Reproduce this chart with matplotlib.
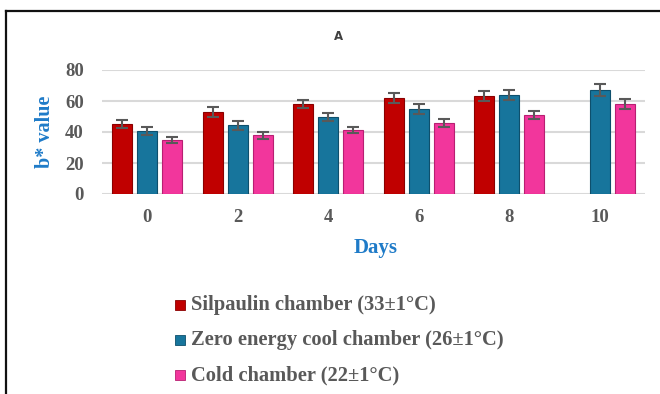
import numpy as np
import matplotlib
matplotlib.use("Agg")
import matplotlib.pyplot as plt
from matplotlib.lines import Line2D
from matplotlib.patches import Rectangle

days = ["0", "2", "4", "6", "8", "10"]
series_names = ["Silpaulin chamber (33±1°C)",
                "Zero energy cool chamber (26±1°C)",
                "Cold chamber (22±1°C)"]
silpaulin = [45.2, 53.1, 58.0, 61.9, 63.2, np.nan]
zero_energy = [40.6, 44.3, 49.7, 54.8, 63.9, 67.1]
cold = [34.8, 37.8, 41.3, 45.8, 50.8, 58.0]
silpaulin_err = [2.8, 3.2, 2.8, 3.0, 3.0, np.nan]
zero_energy_err = [2.8, 2.8, 2.8, 3.2, 3.2, 3.6]
cold_err = [2.0, 2.4, 2.0, 2.6, 2.6, 3.4]
yticks = [0, 20, 40, 60, 80]

colors = ["#C00000", "#17759C", "#F2369C"]
edges = ["#8A0000", "#0E4F6C", "#B81F72"]
gray = "#595959"
serif = ["Liberation Serif", "DejaVu Serif"]

W, H = 660, 394
fig = plt.figure(figsize=(W / 100, H / 100), dpi=100)
ax = fig.add_axes([102 / W, 1 - 194 / H, 543 / W, 124 / H])

x = np.arange(len(days))
width = 0.22
step = 0.275
vals = [silpaulin, zero_energy, cold]
errs = [silpaulin_err, zero_energy_err, cold_err]
for i, (v, e) in enumerate(zip(vals, errs)):
    xs = x + (i - 1) * step
    ax.bar(xs, v, width=width, color=colors[i], edgecolor=edges[i],
           linewidth=0.8, zorder=3)
    ax.errorbar(xs, v, yerr=e, fmt="none", ecolor=gray, elinewidth=1.5,
                capsize=4, capthick=1.5, zorder=4)

ax.set_xlim(-0.5, len(days) - 0.5)
ax.set_ylim(0, 80)
ax.set_yticks(yticks)
ax.set_xticks(x)
ax.set_xticklabels(days)
ax.grid(axis="y", color="#D9D9D9", linewidth=1.5, zorder=0)
ax.set_axisbelow(True)
for s in ax.spines.values():
    s.set_visible(False)
ax.tick_params(axis="both", length=0, labelcolor=gray)
ax.tick_params(axis="y", pad=13)
ax.tick_params(axis="x", pad=11)
for lab in ax.get_xticklabels() + ax.get_yticklabels():
    lab.set_fontfamily(serif)
    lab.set_fontweight("bold")
    lab.set_fontsize(13.5)

fig.text(45 / W, 1 - 132 / H, "b* value", rotation=90, ha="center",
         va="center", color="#1F7BC8", fontweight="bold", fontsize=14.5,
         family=serif)
fig.text(376 / W, 1 - 248 / H, "Days", ha="center", va="center",
         color="#1F7BC8", fontweight="bold", fontsize=15, family=serif)
fig.text(338 / W, 1 - 37 / H, "A", ha="center", va="center",
         color="#404040", fontweight="bold", fontsize=8.5,
         family=["DejaVu Sans"])

# legend
for i, name in enumerate(series_names):
    yc = 305 + i * 35
    fig.add_artist(Rectangle((175 / W, 1 - (yc + 5) / H), 10 / W, 10 / H,
                             transform=fig.transFigure, facecolor=colors[i],
                             edgecolor=edges[i], linewidth=0.6))
    fig.text(191 / W, 1 - yc / H, name, ha="left", va="center", color=gray,
             fontweight="bold", fontsize=14.8, family=serif)

# frame
fig.add_artist(Line2D([6 / W, 1], [1 - 11 / H, 1 - 11 / H],
                      transform=fig.transFigure, color="#111111", linewidth=1.6))
fig.add_artist(Line2D([6 / W, 6 / W], [0, 1 - 11 / H],
                      transform=fig.transFigure, color="#111111", linewidth=1.6))

fig.savefig("out.png", dpi=100)
